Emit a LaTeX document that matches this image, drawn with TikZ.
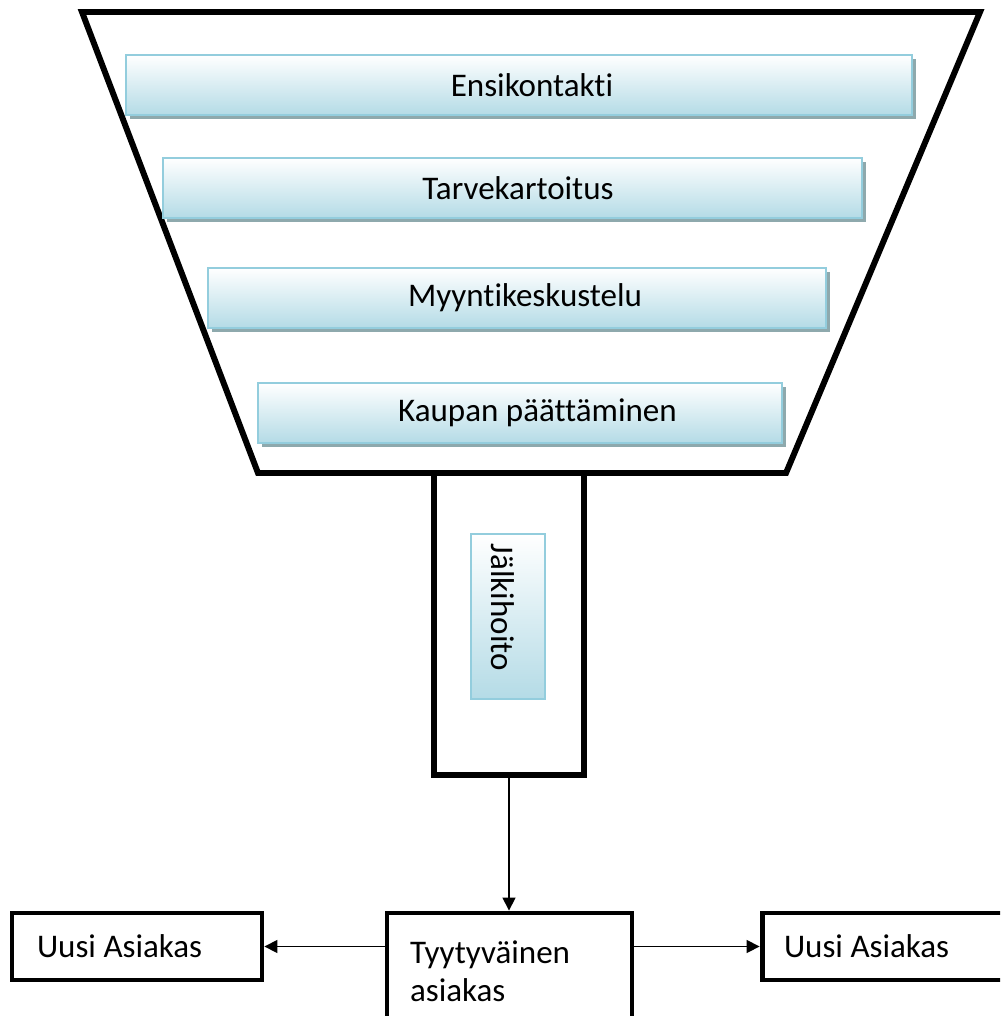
\documentclass[tikz,border=0pt]{standalone}
\usepackage{fontspec}
\setmainfont{Carlito}[Ligatures=NoCommon]
\usetikzlibrary{arrows.meta,shadows,calc}
\definecolor{barline}{HTML}{93CDDD}
\definecolor{barlow}{HTML}{B4DBE6}
\definecolor{barshade}{HTML}{8EA9AD}
\begin{document}
\begin{tikzpicture}[x=0.02cm,y=-0.02cm,
  every node/.style={font=\fontsize{18.8}{21.5}\selectfont},
  bar/.style={draw=barline, line width=0.9pt, top color=white, bottom color=barlow,
    general shadow={fill=barshade, shadow xshift=0.08cm, shadow yshift=-0.08cm},
    minimum height=1.2cm, inner sep=0pt},
  tallbar/.style={draw=barline, line width=0.9pt, top color=white, bottom color=barlow,
    inner sep=0pt},
  outline/.style={draw=black, line width=3.4pt},
  endbox/.style={draw=black, line width=2.8pt, align=flush left, inner ysep=0pt},
  link/.style={line width=0.9pt, -{Triangle[length=0.26cm,width=0.26cm]}}]
\useasboundingbox (0,0) rectangle (1000,1016);
\clip (0,0) rectangle (1000,1016);

% funnel outline
\draw[outline, line join=miter] (82,12) -- (980,12) -- (786,473) -- (258,473) -- cycle;

% stages inside the funnel (labels sit a little right of centre)
\node[bar, minimum width=15.72cm] (b1) at (519,85) {\hspace*{0.52cm}Ensikontakti};
\node[bar, minimum width=13.98cm] (b2) at (512.5,188) {\hspace*{0.22cm}Tarvekartoitus};
\node[bar, minimum width=12.36cm] (b3) at (517,298) {\hspace*{0.32cm}Myyntikeskustelu};
\node[bar, minimum width=10.48cm] (b4) at (520,413) {\hspace*{0.7cm}Kaupan päättäminen};

% funnel stem
\node[outline, minimum width=3cm, minimum height=6.04cm, inner sep=0pt] (stem) at (509,624) {};
\node[tallbar, minimum width=1.48cm, minimum height=3.3cm] (jk) at (508,616.5) {};
\node[rotate=-90, inner sep=0pt] (jktext) at ($(jk.center)+(-5,-9)$) {Jälkihoito};

% outcome boxes
\node[endbox, minimum width=4.9cm, minimum height=2.34cm, inner xsep=0.46cm, text width=3.98cm]
  (ty) at (509.5,971.5) {Tyytyväinen\\asiakas};
\node[endbox, minimum width=5cm, minimum height=1.34cm, inner xsep=0.5cm, text width=4cm]
  (ua1) at (137,946.5) {Uusi Asiakas};
\node[endbox, minimum width=5cm, minimum height=1.34cm, inner xsep=0.44cm, text width=4.12cm]
  (ua2) at (887,946.5) {Uusi Asiakas};

% connectors
\draw[link] (stem.south) -- (stem.south |- ty.north);
\draw[link] (ty.west |- ua1.east) -- (ua1.east);
\draw[link] (ty.east |- ua2.west) -- (ua2.west);
\end{tikzpicture}
\end{document}
